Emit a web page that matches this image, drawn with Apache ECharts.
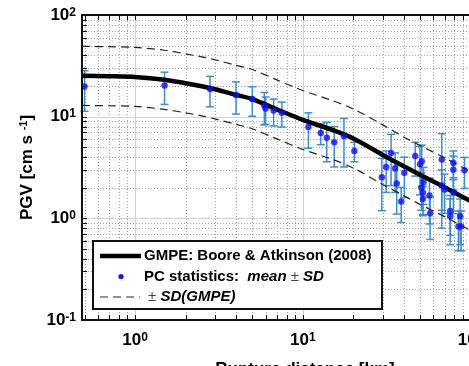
<!DOCTYPE html>
<html>
<head>
<meta charset="utf-8">
<script src="https://cdn.jsdelivr.net/npm/echarts@6/dist/echarts.min.js"></script>
<style>
  html, body { margin: 0; padding: 0; background: #fff; }
  #chart { width: 469px; height: 366px; }
</style>
</head>
<body>
<div id="chart"></div>
<script>
// station statistics: rupture distance [km], mean PGV and SD [cm/s]
var distKm = [0.5, 1.5, 2.8, 4.0, 5.0, 5.9, 6.0, 6.7, 7.5, 10.8, 12.8, 13.9, 15.4, 17.6, 20.3,
  29.6, 31.4, 33.6, 35.5, 36.3, 38.6, 40.3, 46.8, 50, 51.2, 52.4, 51, 52, 52, 56.9, 57.4,
  67.4, 67.4, 69.9, 75.6, 75.6, 79, 79, 79, 84.7, 87.9, 92, 86.7];
var pgvMean = [19.8, 20.3, 18.7, 16.3, 14.9, 12.8, 12.0, 11.5, 10.9, 7.9, 6.9, 6.2, 5.6, 6.4, 4.6,
  2.54, 3.2, 4.4, 3.1, 2.2, 1.46, 2.8, 4.1, 3.4, 3.65, 2.27, 2.0, 1.79, 1.56, 1.68, 1.12,
  3.8, 2.1, 1.92, 1.18, 1.05, 3.5, 3.0, 1.81, 0.83, 0.83, 2.97, 1.05];
var pgvSd = [8.5, 7.1, 6.2, 5.7, 4.8, 4.5, 3.6, 3.4, 3.0, 3.0, 1.6, 2.6, 2.4, 3.2, 1.0,
  1.35, 1.4, 2.3, 1.3, 1.1, 0.55, 1.2, 1.5, 1.7, 1.6, 0.9, 0.8, 0.7, 0.5, 0.8, 0.5,
  3.0, 0.9, 0.8, 0.5, 0.5, 1.1, 1.1, 0.7, 0.35, 0.35, 1.0, 0.5];

// GMPE: Boore & Atkinson (2008) median and +/- SD
var gmpeDist = [0.483, 0.7, 1, 1.5, 2, 2.5, 3, 4, 5, 7, 10, 15, 20, 30, 40, 50, 70, 100, 150, 220];
var gmpeMedian = [25.2, 25.0, 24.6, 23.1, 21.3, 19.9, 18.6, 16.4, 14.9, 11.8, 9.3, 7.4, 6.1, 4.2, 3.25, 2.68, 2.02, 1.48, 1.05, 0.75];
var gmpeUpper = [49.1, 48.8, 48.0, 45.0, 41.5, 38.8, 36.3, 32.0, 29.1, 23.0, 18.1, 14.4, 11.9, 8.3, 6.3, 5.2, 3.94, 2.89, 2.05, 1.46];
var gmpeLower = [12.9, 12.8, 12.6, 11.8, 10.9, 10.2, 9.5, 8.4, 7.6, 6.05, 4.77, 3.8, 3.13, 2.15, 1.67, 1.37, 1.04, 0.76, 0.54, 0.38];

var xMin = 0.483, xMax = 220, yMin = 0.1, yMax = 100;
var FONT = 'Liberation Sans, Arial, sans-serif';

// grid lines of the log axes (major = powers of ten)
var gridMarks = [];
[0.1, 1, 10, 100].forEach(function (d) {
  for (var k = 1; k <= 9; k++) {
    var v = k * d;
    if (v > xMin * 1.001 && v < xMax) gridMarks.push([v, 1, 0, k === 1 ? 1 : 0]);
    if (v > yMin * 1.001 && v < yMax * 0.999) gridMarks.push([1, v, 1, k === 1 ? 1 : 0]);
  }
});

function powLabel(v) {
  var n = Math.log10(v);
  if (Math.abs(n - Math.round(n)) > 1e-6) return '';
  return '{b|10}{s|' + Math.round(n) + '}';
}

var labelRich = {
  b: { fontSize: 17, fontWeight: 'bold', fontFamily: FONT, color: '#000', lineHeight: 17, verticalAlign: 'bottom', padding: [6, 0, 0, 0] },
  s: { fontSize: 12, fontWeight: 'bold', fontFamily: FONT, color: '#000', lineHeight: 12, verticalAlign: 'top' }
};

var chart = echarts.init(document.getElementById('chart'), null, { renderer: 'canvas' });

chart.setOption({
  animation: false,
  backgroundColor: '#fff',
  grid: { left: 82, top: 15, right: -59, bottom: 46, outerBoundsMode: 'none', containLabel: false, show: true, backgroundColor: '#fff', borderWidth: 0 },
  xAxis: [{
    type: 'log', min: xMin, max: xMax, z: 10,
    axisLine: { show: true, lineStyle: { color: '#111', width: 2 } },
    axisTick: { show: false },
    splitLine: { show: false },
    axisLabel: { formatter: powLabel, rich: labelRich, margin: 12 },
    name: 'Rupture distance [km]',
    nameLocation: 'middle', nameGap: 41,
    nameTextStyle: { fontSize: 17, fontWeight: 'bold', fontFamily: FONT, color: '#000' }
  }, {
    type: 'log', min: xMin, max: xMax, position: 'top', z: 10,
    axisLine: { show: true, lineStyle: { color: '#111', width: 2 } },
    axisTick: { show: false }, axisLabel: { show: false }, splitLine: { show: false }
  }],
  yAxis: {
    type: 'log', min: yMin, max: yMax, z: 10,
    axisLine: { show: true, lineStyle: { color: '#111', width: 2 } },
    axisTick: { show: false },
    splitLine: { show: false },
    axisLabel: { formatter: powLabel, rich: labelRich, margin: 6 },
    name: '{n|PGV [cm s }{u|-1}{n|]}',
    nameLocation: 'middle', nameGap: 44,
    nameTextStyle: {
      rich: {
        n: { fontSize: 17, fontWeight: 'bold', fontFamily: FONT, color: '#000', lineHeight: 17, verticalAlign: 'bottom', padding: [5, 0, 0, 0] },
        u: { fontSize: 11, fontWeight: 'bold', fontFamily: FONT, color: '#000', lineHeight: 11, verticalAlign: 'top' }
      }
    }
  },
  series: [{
    name: 'grid',
    type: 'custom',
    silent: true,
    z: 1,
    data: gridMarks,
    renderItem: function (params, api) {
      var cs = params.coordSys;
      var kind = api.value(2), major = api.value(3);
      var style = major ? { stroke: '#d2d2d2', lineWidth: 1 } : { stroke: '#a0a0a0', lineWidth: 1, lineDash: [1, 2] };
      var tick = { stroke: '#111', lineWidth: 1 };
      var L = 5;
      if (kind === 0) {
        var x = Math.round(api.coord([api.value(0), 1])[0]) + 0.5;
        var y0 = cs.y, y1 = cs.y + cs.height;
        return { type: 'group', children: [
          { type: 'line', shape: { x1: x, y1: y0, x2: x, y2: y1 }, style: style },
          { type: 'line', shape: { x1: x, y1: y1, x2: x, y2: y1 - L }, style: tick },
          { type: 'line', shape: { x1: x, y1: y0, x2: x, y2: y0 + L }, style: tick }
        ] };
      }
      var y = Math.round(api.coord([1, api.value(1)])[1]) + 0.5;
      var x0 = cs.x, x1 = cs.x + cs.width;
      return { type: 'group', children: [
        { type: 'line', shape: { x1: x0, y1: y, x2: x1, y2: y }, style: style },
        { type: 'line', shape: { x1: x0, y1: y, x2: x0 + L, y2: y }, style: tick }
      ] };
    }
  }, {
    name: 'errorbars',
    type: 'custom',
    z: 2,
    data: distKm.map(function (d, i) { return [d, pgvMean[i], pgvSd[i]]; }),
    renderItem: function (params, api) {
      var x = api.value(0), m = api.value(1), s = api.value(2);
      var top = api.coord([x, m + s]);
      var bot = api.coord([x, m - s]);
      var st = { stroke: '#3c8dc8', lineWidth: 1.5 };
      var w = 4;
      return { type: 'group', children: [
        { type: 'line', shape: { x1: top[0], y1: top[1], x2: bot[0], y2: bot[1] }, style: st },
        { type: 'line', shape: { x1: top[0] - w, y1: top[1], x2: top[0] + w, y2: top[1] }, style: st },
        { type: 'line', shape: { x1: bot[0] - w, y1: bot[1], x2: bot[0] + w, y2: bot[1] }, style: st }
      ] };
    }
  }, {
    name: 'GMPE: Boore & Atkinson (2008)',
    type: 'line',
    z: 3,
    smooth: 0.3,
    symbol: 'none',
    data: gmpeDist.map(function (d, i) { return [d, gmpeMedian[i]]; }),
    lineStyle: { color: '#000', width: 4.5 }
  }, {
    name: '+SD',
    type: 'line',
    z: 3,
    smooth: 0.3,
    symbol: 'none',
    data: gmpeDist.map(function (d, i) { return [d, gmpeUpper[i]]; }),
    lineStyle: { color: '#222', width: 1.2, type: [8, 5] }
  }, {
    name: '-SD',
    type: 'line',
    z: 3,
    smooth: 0.3,
    symbol: 'none',
    data: gmpeDist.map(function (d, i) { return [d, gmpeLower[i]]; }),
    lineStyle: { color: '#222', width: 1.2, type: [8, 5] }
  }, {
    name: 'PC statistics',
    type: 'scatter',
    z: 4,
    symbol: 'circle',
    symbolSize: 6.5,
    itemStyle: { color: '#1010f0' },
    data: distKm.map(function (d, i) { return [d, pgvMean[i]]; })
  }],
  graphic: [
    { type: 'rect', z: 20, shape: { x: 93, y: 241, width: 289, height: 68 }, style: { fill: '#fff', stroke: '#111', lineWidth: 2 } },
    { type: 'line', z: 21, shape: { x1: 100, y1: 256, x2: 141, y2: 256 }, style: { stroke: '#000', lineWidth: 4.5 } },
    { type: 'circle', z: 21, shape: { cx: 121, cy: 276.5, r: 2.6 }, style: { fill: '#1010f0' } },
    { type: 'line', z: 21, shape: { x1: 100, y1: 297, x2: 140, y2: 297 }, style: { stroke: '#222', lineWidth: 1.2, lineDash: [8, 5] } },
    { type: 'text', z: 21, x: 144, y: 256, style: { text: 'GMPE: Boore & Atkinson (2008)', font: 'bold 15px ' + FONT, fill: '#000', verticalAlign: 'middle' } },
    { type: 'text', z: 21, x: 144, y: 276.5, style: {
      text: '{b|PC statistics:  }{i|mean }{n|\u00b1}{i| SD}',
      verticalAlign: 'middle',
      rich: {
        b: { font: 'bold 15px ' + FONT, fill: '#000' },
        i: { font: 'italic bold 15px ' + FONT, fill: '#000' },
        n: { font: '15px ' + FONT, fill: '#444' }
      }
    } },
    { type: 'text', z: 21, x: 148, y: 297, style: {
      text: '{n|\u00b1}{i| SD(GMPE)}',
      verticalAlign: 'middle',
      rich: {
        i: { font: 'italic bold 15px ' + FONT, fill: '#000' },
        n: { font: '15px ' + FONT, fill: '#444' }
      }
    } }
  ]
});
</script>
</body>
</html>
